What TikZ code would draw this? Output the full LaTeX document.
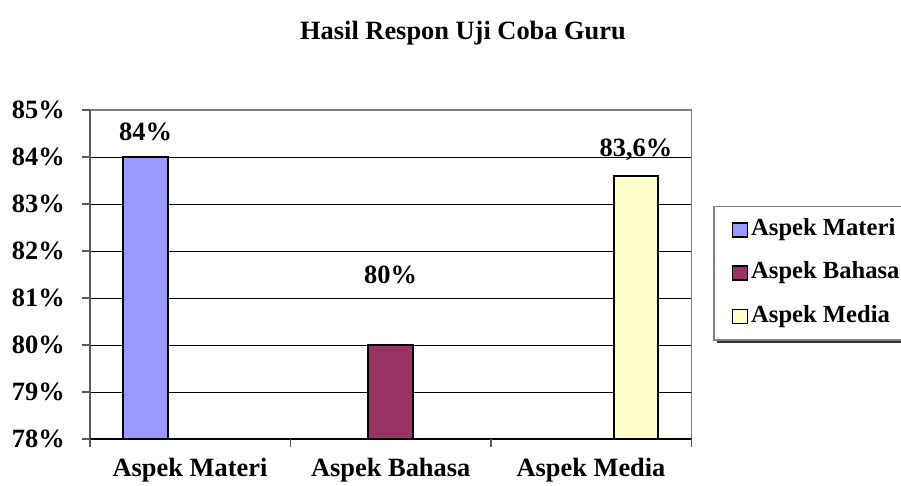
\documentclass[tikz,border=0pt]{standalone}
\usepackage{fontspec}
\setmainfont{Liberation Serif}
\definecolor{materi}{HTML}{9999FF}
\definecolor{bahasa}{HTML}{993366}
\definecolor{media}{HTML}{FFFFCC}
\definecolor{frame}{HTML}{808080}
\begin{document}
\begin{tikzpicture}[x=1pt,y=-1pt,
  lbl/.style={font=\fontsize{26.4}{26.4}\selectfont\bfseries, inner sep=0pt},
  ttl/.style={font=\fontsize{26.4}{26.4}\selectfont\bfseries, inner sep=0pt},
  leg/.style={font=\fontsize{24.6}{24.6}\selectfont\bfseries, inner sep=0pt, anchor=west},
  bar/.style={draw=black, line width=2pt},
  grid/.style={black, line width=1pt},
  tick/.style={frame!70!black, line width=1.2pt}]
\useasboundingbox (0,0) rectangle (901,485);
\fill[white] (0,0) rectangle (901,485);

% title
\node[ttl] (title) at (463,33) {Hasil Respon Uji Coba Guru};

% horizontal grid lines (84% .. 79%)
\foreach \yy in {157,204,251,298,345,392}
  \draw[grid] (90,\yy) -- (691.7,\yy);

% plot frame: top and right in gray
\draw[frame, line width=1.5pt] (90,110) -- (691.7,110) -- (691.7,439);

% bars
\draw[bar, fill=materi] (123.3,439) rectangle (167.7,157);
\draw[bar, fill=bahasa] (368.3,439) rectangle (412.7,345);
\draw[bar, fill=media]  (614,439) rectangle (658.3,175.8);

% axes
\draw[tick] (90,110) -- (90,439);
\draw[black, line width=1.2pt] (90,439) -- (691.7,439);
\foreach \yy in {110,157,204,251,298,345,392,439}
  \draw[tick] (82,\yy) -- (90,\yy);
\foreach \xx in {90,290.5,491,691.7}
  \draw[tick] (\xx,439) -- (\xx,446.5);

% value axis labels
\foreach \yy/\t in {110/85,157/84,204/83,251/82,298/81,345/80,392/79,439/78}
  \node[lbl, anchor=east] (y\t) at (65,\yy) {\t\%};

% category labels
\node[lbl] (cMateri) at (190,470) {Aspek Materi};
\node[lbl] (cBahasa) at (390.75,470) {Aspek Bahasa};
\node[lbl] (cMedia)  at (591,470) {Aspek Media};

% data labels
\node[lbl] (vMateri) at (145.5,132) {84\%};
\node[lbl] (vBahasa) at (390.5,275) {80\%};
\node[lbl] (vMedia)  at (636,150) {83,6\%};

% legend
\fill[frame!40!black] (717,209.5) rectangle (910,343);
\draw[frame, line width=1.2pt, fill=white] (714,206.7) rectangle (907,340);
\foreach \yy/\c/\t [count=\i] in {230/materi/Aspek Materi,273/bahasa/Aspek Bahasa,316.7/media/Aspek Media}{
  \draw[black, line width=1.5pt, fill=\c] (732.5,\yy-7) rectangle (747.5,\yy+7);
  \node[leg] (leg\i) at (751,\yy) {\t};
}
\end{tikzpicture}
\end{document}
